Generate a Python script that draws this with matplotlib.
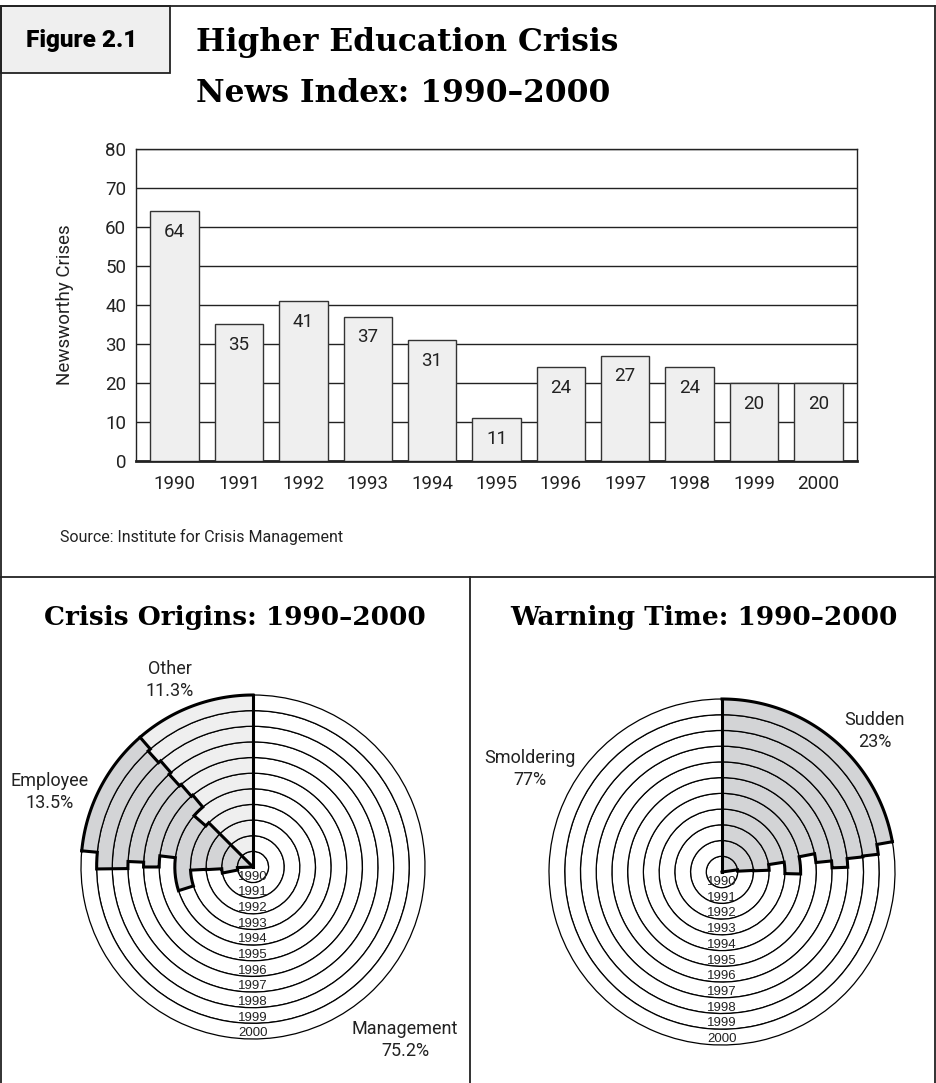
import numpy as np
import matplotlib
matplotlib.use("Agg")
import matplotlib.pyplot as plt
from matplotlib.patches import Rectangle
from matplotlib.lines import Line2D

# data
years = [1990, 1991, 1992, 1993, 1994, 1995, 1996, 1997, 1998, 1999, 2000]
crises = [64, 35, 41, 37, 31, 11, 24, 27, 24, 20, 20]

# crisis origins per year, percent (management is the rest)
other_pct = [12.5, 12.5, 12.5, 12.5, 13.6, 11.1, 11.4, 11.7, 11.4, 11.7, 11.4]
employee_pct = [13.1, 15.6, 13.4, 13.3, 16.3, 12.0, 13.6, 12.6, 13.8, 13.5, 12.1]

# warning time per year, percent sudden (smoldering is the rest)
sudden_pct = [22.8, 24.2, 24.4, 22.5, 25.4, 21.9, 23.4, 24.4, 23.3, 23.2, 22.2]

origin_labels = ["Other\n11.3%", "Employee\n13.5%", "Management\n75.2%"]
warning_labels = ["Sudden\n23%", "Smoldering\n77%"]

W, H = 937, 1083
SANS = ["Roboto", "DejaVu Sans"]
ARIAL = ["Liberation Sans", "DejaVu Sans"]
SERIF = ["DejaVu Serif"]
LIGHT = "#efefef"
MID = "#d3d4d6"
INK = "#222222"

fig = plt.figure(figsize=(W / 100, H / 100), dpi=100)


def box(x0, y0, x1, y1):
    return [x0 / W, 1 - y1 / H, (x1 - x0) / W, (y1 - y0) / H]


def fline(x0, y0, x1, y1, lw=1.3):
    fig.add_artist(Line2D([x0 / W, x1 / W], [1 - y0 / H, 1 - y1 / H],
                          transform=fig.transFigure, color=INK, lw=lw))


def ftext(x, y, s, **kw):
    fig.text(x / W, 1 - y / H, s, **kw)


# frame
fline(1, 6, 935, 6)
fline(1, 6, 1, 1083)
fline(935, 6, 935, 1083)
fline(1, 577, 935, 577)
fline(470, 577, 470, 1083)
fig.add_artist(Rectangle((1 / W, 1 - 73 / H), 169 / W, 67 / H, transform=fig.transFigure,
                         facecolor=LIGHT, edgecolor=INK, lw=1.3))
ftext(82, 40, "Figure 2.1", ha="center", va="center", fontsize=17.5, weight="black",
      family=SANS)
ftext(196, 42, "Higher Education Crisis", ha="left", va="center", fontsize=22.5,
      weight="bold", family=SERIF)
ftext(196, 93, "News Index: 1990\u20132000", ha="left", va="center", fontsize=22.5,
      weight="bold", family=SERIF)

# bar chart
ax = fig.add_axes(box(136, 149, 857, 461))
x = np.arange(len(years))
ax.bar(x, crises, width=0.75, color=LIGHT, edgecolor="#333333", lw=1, zorder=3)
for i, v in enumerate(crises):
    ax.text(i, v - 5.3, str(v), ha="center", va="center", fontsize=13.5,
            family=SANS, color=INK, zorder=4)
ax.set_xlim(-0.6, len(years) - 0.4)
ax.set_ylim(0, 80)
ax.set_yticks(range(0, 81, 10))
ax.set_xticks(x)
ax.set_xticklabels([str(y) for y in years])
ax.yaxis.grid(True, color=INK, lw=1)
ax.set_axisbelow(True)
ax.tick_params(length=0, labelsize=13.5, colors=INK)
ax.tick_params(axis="y", pad=7)
ax.tick_params(axis="x", pad=10)
for lab in ax.get_xticklabels() + ax.get_yticklabels():
    lab.set_family(SANS)
for s in ax.spines.values():
    s.set_color(INK)
    s.set_linewidth(1)
ax.spines["bottom"].set_linewidth(2)
ax.set_ylabel("Newsworthy Crises", fontsize=13.5, family=SANS, color=INK)
ax.yaxis.set_label_coords(-0.086, 0.5)
ftext(60, 537, "Source: Institute for Crisis Management", va="center", fontsize=11.5,
      family=SANS, color=INK)


def polar_setup(rect):
    p = fig.add_axes(rect, projection="polar")
    p.set_theta_zero_location("N")
    p.set_theta_direction(-1)
    p.set_ylim(0, len(years))
    p.axis("off")
    return p


def stair(p, ang):
    th, rr = [], []
    for k, a in enumerate(ang):
        if k > 0:
            arc = np.linspace(ang[k - 1], a, 30)
            th += list(arc)
            rr += [k] * 30
        th += [a, a]
        rr += [k, k + 1]
    p.plot(th, rr, color="black", lw=2.2, clip_on=False, solid_joinstyle="miter")


def year_labels(p):
    for k, y in enumerate(years):
        p.text(np.pi, k + 0.63, str(y), ha="center", va="center", fontsize=9.5,
               family=ARIAL, color=INK)


n = len(years)
full = 2 * np.pi

# crisis origins
pa = polar_setup(box(81, 695, 425, 1039))
other = np.array(other_pct) / 100 * full
emp = np.array(employee_pct) / 100 * full
mgmt = full - other - emp
for k in range(n):
    pa.bar(0, 1, width=mgmt[k], bottom=k, align="edge", color="white",
           edgecolor="black", lw=0.9, clip_on=False)
    pa.bar(mgmt[k], 1, width=emp[k], bottom=k, align="edge", color=MID,
           edgecolor="black", lw=0.9, clip_on=False)
    pa.bar(mgmt[k] + emp[k], 1, width=other[k], bottom=k, align="edge", color=LIGHT,
           edgecolor="black", lw=0.9, clip_on=False)
stair(pa, mgmt)
stair(pa, mgmt + emp)
pa.plot([0, 0], [0, n], color="black", lw=2.2, clip_on=False)
arc = np.linspace(mgmt[-1], full, 100)
pa.plot(arc, [n] * len(arc), color="black", lw=2.2, clip_on=False)
year_labels(pa)

# warning time
pb = polar_setup(box(549, 699, 895, 1045))
sud = np.array(sudden_pct) / 100 * full
for k in range(n):
    pb.bar(0, 1, width=sud[k], bottom=k, align="edge", color=MID,
           edgecolor="black", lw=0.9, clip_on=False)
    pb.bar(sud[k], 1, width=full - sud[k], bottom=k, align="edge", color="white",
           edgecolor="black", lw=0.9, clip_on=False)
stair(pb, sud)
pb.plot([0, 0], [0, n], color="black", lw=2.2, clip_on=False)
arc = np.linspace(0, sud[-1], 100)
pb.plot(arc, [n] * len(arc), color="black", lw=2.2, clip_on=False)
year_labels(pb)

# panel titles and labels
ftext(235, 618, "Crisis Origins: 1990\u20132000", ha="center", va="center", fontsize=19,
      weight="bold", family=SERIF)
ftext(704, 618, "Warning Time: 1990\u20132000", ha="center", va="center", fontsize=19,
      weight="bold", family=SERIF)
lab_kw = dict(ha="center", va="center", fontsize=13, family=SANS,
              color=INK, linespacing=1.3)
ftext(170, 680, origin_labels[0], **lab_kw)
ftext(50, 792, origin_labels[1], **lab_kw)
ftext(405, 1040, origin_labels[2], **lab_kw)
ftext(875, 731, warning_labels[0], **lab_kw)
ftext(530, 769, warning_labels[1], **lab_kw)

fig.savefig("out.png", dpi=100)
